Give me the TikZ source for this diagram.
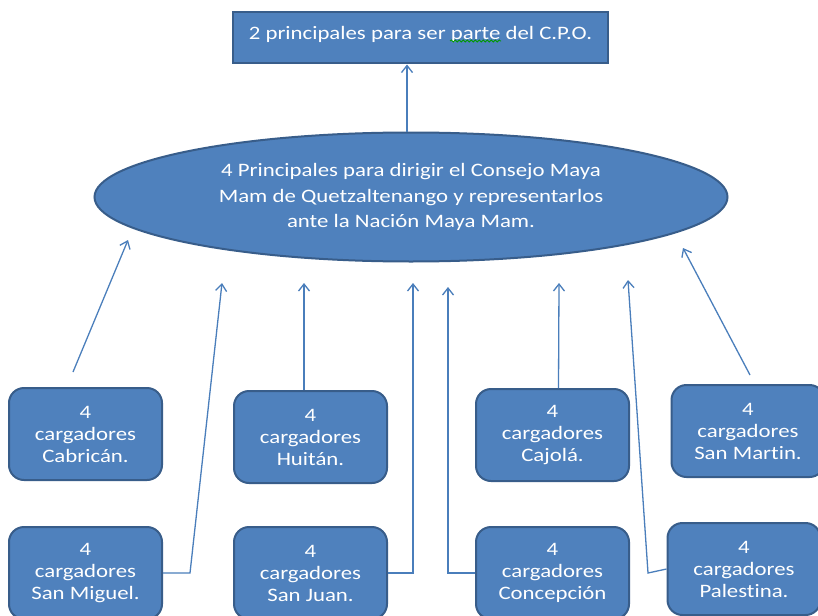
\documentclass[tikz,border=0pt]{standalone}
\usepackage{fontspec}
\setmainfont{Carlito}[FakeStretch=1.2,Ligatures=NoCommon]
\usetikzlibrary{arrows.meta,shapes.geometric,decorations.pathmorphing}
\definecolor{boxfill}{HTML}{4F81BD}
\definecolor{boxline}{HTML}{385D8A}
\definecolor{conn}{HTML}{4A7EBB}
\tikzset{
  shapestyle/.style={fill=boxfill,draw=boxline,line width=2pt,text=white,align=center,inner sep=0pt},
  cbox/.style={shapestyle,rectangle,rounded corners=15pt,minimum width=153pt,minimum height=92pt,
    font=\fontsize{19}{22}\selectfont},
  conline/.style={draw=conn,line width=1.3pt,-{Straight Barb[length=7pt,width=11pt,line width=1.3pt]}},
}
\begin{document}
\begin{tikzpicture}[x=1pt,y=-1pt]
\useasboundingbox (0,0) rectangle (818,615);
\clip (0,0) rectangle (818,615);
\fill[white] (0,0) rectangle (818,615);
% top box
\node[shapestyle,rectangle,minimum width=375pt,minimum height=51pt,text depth=11pt,
  font=\fontsize{19}{22}\selectfont] (top) at (420.5,38) {2 principales para ser parte del C.P.O.};
% ellipse
\node[shapestyle,ellipse,minimum width=633pt,minimum height=129pt,
  font=\fontsize{19}{25.5}\selectfont] (ell) at (411,197)
  {4 Principales para dirigir el Consejo Maya\\Mam de Quetzaltenango y representarlos\\ante la Nación Maya Mam.};
% boxes
\node[cbox] (cab) at (85.5,434) {4\\cargadores\\Cabricán.};
\node[cbox] (hui) at (310.5,437) {4\\cargadores\\Huitán.};
\node[cbox] (caj) at (552.5,435) {4\\cargadores\\Cajolá.};
\node[cbox] (smt) at (748,431) {4\\cargadores\\San Martin.};
\node[cbox] (smi) at (85.5,573) {4\\cargadores\\San Miguel.};
\node[cbox] (sju) at (310.5,573) {4\\cargadores\\San Juan.};
\node[cbox] (con) at (552.5,573) {4\\cargadores\\Concepción};
\node[cbox] (pal) at (744,569) {4\\cargadores\\Palestina.};
% coordinates
\coordinate (t1s) at (73,372);   \coordinate (t1) at (128,240);
\coordinate (b2) at (190,573);   \coordinate (t2) at (222,283);
\coordinate (t3) at (304,283);
\coordinate (b4) at (413,573);   \coordinate (t4) at (413,283);
\coordinate (b5) at (448,573);   \coordinate (t5) at (448,287);
\coordinate (t6) at (559,283);
\coordinate (b7) at (648,573);   \coordinate (t7) at (628,280);
\coordinate (t8s) at (750,375);  \coordinate (t8) at (683,248);
% connectors
\draw[conline] ([xshift=-4pt]ell.north) -- ([xshift=-13.5pt]top.south);
\draw[conline] (t1s) -- (t1);
\draw[conline] (smi.east) -- (b2) -- (t2);
\draw[conline] ([xshift=-6.5pt]hui.north) -- (t3);
\draw[conline] (sju.east) -- (b4) -- (t4);
\draw[conline] (con.west) -- (b5) -- (t5);
\draw[conline] ([xshift=6pt]caj.north) -- (t6);
\draw[conline] (pal.west) -- (b7) -- (t7);
\draw[conline] (t8s) -- (t8);
% spell-check underline
\draw[green!60!black,line width=0.8pt,decorate,decoration={snake,amplitude=1pt,segment length=4pt}]
  (450,41) -- (501,41);
\end{tikzpicture}
\end{document}
